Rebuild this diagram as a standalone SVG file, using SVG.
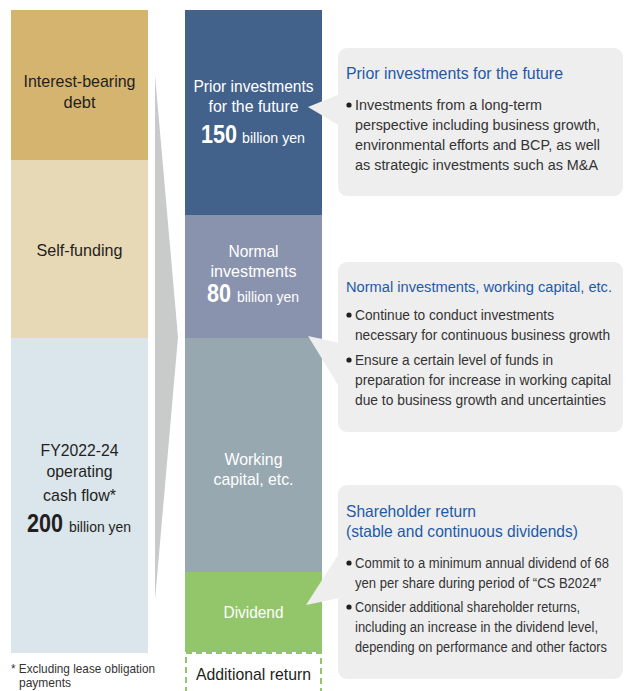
<svg xmlns="http://www.w3.org/2000/svg" width="627" height="691" viewBox="0 0 627 691">
<style>
text{font-family:"Liberation Sans",Arial,sans-serif}
.dk{fill:#231f20;font-size:17px}
.wt{fill:#ffffff;font-size:17px}
.big{font-size:25px;font-weight:bold}
.sm{font-size:15px}
.ttl{fill:#1f5aa6;font-size:16.5px}
.bd{fill:#333333;font-size:13.8px}
.box{fill:#eeeeee}
.dot{fill:#231f20}
</style>
<rect width="627" height="691" fill="#ffffff"/>
<g id="sources">
<g id="debt"><rect x="11" y="10" width="137" height="150" fill="#d4b46f"/>
<text class="dk" x="79.5" y="87" text-anchor="middle" textLength="112" lengthAdjust="spacingAndGlyphs">Interest-bearing</text>
<text class="dk" x="79.5" y="108" text-anchor="middle" textLength="32" lengthAdjust="spacingAndGlyphs">debt</text></g>
<g id="self-funding"><rect x="11" y="160" width="137" height="178" fill="#e8d9b6"/>
<text class="dk" x="79.5" y="256" text-anchor="middle" textLength="86" lengthAdjust="spacingAndGlyphs">Self-funding</text></g>
<g id="cash-flow"><rect x="11" y="338" width="137" height="315" fill="#dbe5ec"/>
<text class="dk" x="79.5" y="456" text-anchor="middle" textLength="78" lengthAdjust="spacingAndGlyphs">FY2022-24</text>
<text class="dk" x="79.5" y="477" text-anchor="middle" textLength="66" lengthAdjust="spacingAndGlyphs">operating</text>
<text class="dk" x="79.5" y="501" text-anchor="middle" textLength="73" lengthAdjust="spacingAndGlyphs">cash flow*</text>
<text x="27" y="532"><tspan class="dk big" textLength="36" lengthAdjust="spacingAndGlyphs">200</tspan><tspan class="dk sm" x="69" textLength="62" lengthAdjust="spacingAndGlyphs">billion yen</tspan></text></g>
</g>
<g id="connectors">
<polygon points="155,75 178,337 155,600" fill="#c9caca"/>
</g>
<g id="uses">
<g id="prior"><rect x="185" y="10" width="137" height="205" fill="#43628b"/>
<text class="wt" x="253.5" y="92" text-anchor="middle" textLength="120" lengthAdjust="spacingAndGlyphs">Prior investments</text>
<text class="wt" x="253.5" y="112" text-anchor="middle" textLength="90" lengthAdjust="spacingAndGlyphs">for the future</text>
<text x="201" y="143"><tspan class="wt big" textLength="36" lengthAdjust="spacingAndGlyphs">150</tspan><tspan class="wt sm" x="242" textLength="63" lengthAdjust="spacingAndGlyphs">billion yen</tspan></text></g>
<g id="normal"><rect x="185" y="215" width="137" height="123" fill="#8a93ae"/>
<text class="wt" x="253.5" y="257" text-anchor="middle" textLength="50" lengthAdjust="spacingAndGlyphs">Normal</text>
<text class="wt" x="253.5" y="277" text-anchor="middle" textLength="86" lengthAdjust="spacingAndGlyphs">investments</text>
<text x="207" y="302"><tspan class="wt big" textLength="24" lengthAdjust="spacingAndGlyphs">80</tspan><tspan class="wt sm" x="237" textLength="62" lengthAdjust="spacingAndGlyphs">billion yen</tspan></text></g>
<g id="working"><rect x="185" y="338" width="137" height="234" fill="#97a8b1"/>
<text class="wt" x="253.5" y="465" text-anchor="middle" textLength="58" lengthAdjust="spacingAndGlyphs">Working</text>
<text class="wt" x="253.5" y="485" text-anchor="middle" textLength="80" lengthAdjust="spacingAndGlyphs">capital, etc.</text></g>
<g id="dividend"><rect x="185" y="572" width="137" height="80" fill="#93c66a"/>
<text class="wt" x="253.5" y="618" text-anchor="middle" textLength="60" lengthAdjust="spacingAndGlyphs">Dividend</text></g>
<g id="additional"><rect x="186" y="653" width="135" height="50" fill="#ffffff" stroke="#93c66a" stroke-width="2" stroke-dasharray="6 4"/>
<text class="dk" x="253.5" y="680" text-anchor="middle" textLength="115" lengthAdjust="spacingAndGlyphs">Additional return</text></g>
</g>
<g id="callout-prior">
<rect class="box" x="338" y="48" width="285" height="148" rx="9"/>
<polygon class="box" points="308,107 340,94 340,126"/>
<text class="ttl" x="346" y="79" textLength="217" lengthAdjust="spacingAndGlyphs">Prior investments for the future</text>
<circle class="dot" cx="349" cy="105" r="2.6"/>
<text class="bd" x="355" y="110" textLength="187" lengthAdjust="spacingAndGlyphs">Investments from a long-term</text>
<text class="bd" x="355" y="130" textLength="245" lengthAdjust="spacingAndGlyphs">perspective including business growth,</text>
<text class="bd" x="355" y="150" textLength="245" lengthAdjust="spacingAndGlyphs">environmental efforts and BCP, as well</text>
<text class="bd" x="355" y="170" textLength="243" lengthAdjust="spacingAndGlyphs">as strategic investments such as M&amp;A</text>
</g>
<g id="callout-normal">
<rect class="box" x="338" y="262" width="285" height="170" rx="9"/>
<polygon class="box" points="308,336 340,343 340,388"/>
<text class="ttl" x="346" y="292" style="font-size:15.3px" textLength="266" lengthAdjust="spacingAndGlyphs">Normal investments, working capital, etc.</text>
<circle class="dot" cx="349" cy="315" r="2.6"/>
<text class="bd" x="355" y="320" textLength="199" lengthAdjust="spacingAndGlyphs">Continue to conduct investments</text>
<text class="bd" x="355" y="340" textLength="255" lengthAdjust="spacingAndGlyphs">necessary for continuous business growth</text>
<circle class="dot" cx="349" cy="360" r="2.6"/>
<text class="bd" x="355" y="365" textLength="198" lengthAdjust="spacingAndGlyphs">Ensure a certain level of funds in</text>
<text class="bd" x="355" y="385" textLength="256" lengthAdjust="spacingAndGlyphs">preparation for increase in working capital</text>
<text class="bd" x="355" y="405" textLength="251" lengthAdjust="spacingAndGlyphs">due to business growth and uncertainties</text>
</g>
<g id="callout-return">
<rect class="box" x="338" y="485" width="285" height="194" rx="9"/>
<polygon class="box" points="306,605 340,552 340,598"/>
<text class="ttl" x="346" y="517" textLength="130" lengthAdjust="spacingAndGlyphs">Shareholder return</text>
<text class="ttl" x="346" y="537" textLength="232" lengthAdjust="spacingAndGlyphs">(stable and continuous dividends)</text>
<circle class="dot" cx="349" cy="563" r="2.6"/>
<text class="bd" x="355" y="568" textLength="254" lengthAdjust="spacingAndGlyphs">Commit to a minimum annual dividend of 68</text>
<text class="bd" x="355" y="588" textLength="246" lengthAdjust="spacingAndGlyphs">yen per share during period of “CS B2024”</text>
<circle class="dot" cx="349" cy="607" r="2.6"/>
<text class="bd" x="355" y="612" textLength="225" lengthAdjust="spacingAndGlyphs">Consider additional shareholder returns,</text>
<text class="bd" x="355" y="632" textLength="243" lengthAdjust="spacingAndGlyphs">including an increase in the dividend level,</text>
<text class="bd" x="355" y="652" textLength="252" lengthAdjust="spacingAndGlyphs">depending on performance and other factors</text>
</g>
<g id="footnote">
<text x="11" y="673" fill="#333333" font-size="13.5" textLength="144" lengthAdjust="spacingAndGlyphs">* Excluding lease obligation</text>
<text x="19" y="687" fill="#333333" font-size="13" textLength="52" lengthAdjust="spacingAndGlyphs">payments</text>
</g>
</svg>
